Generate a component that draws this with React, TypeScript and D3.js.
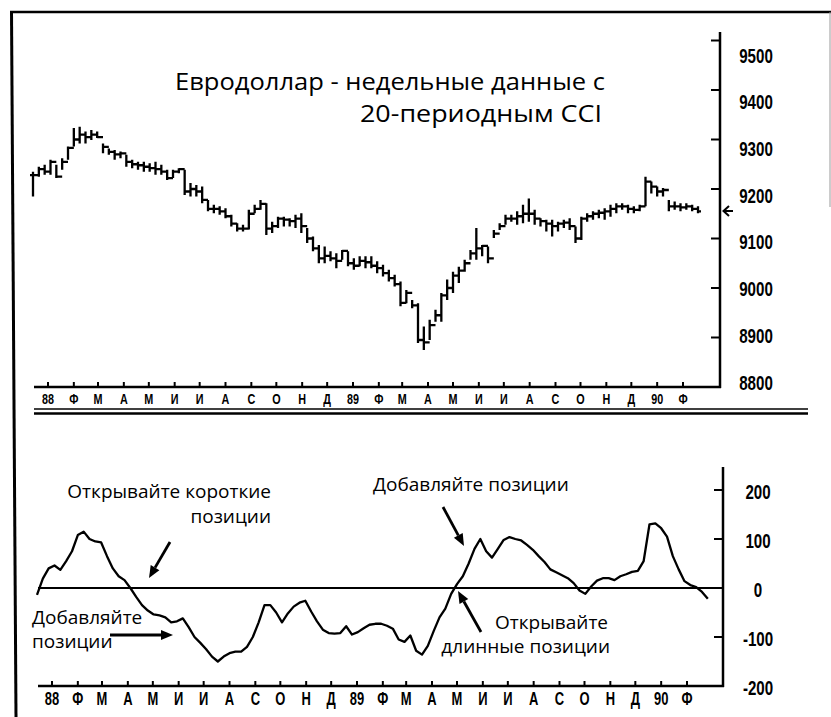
import React from 'react';
import * as d3 from 'd3';

// ---------- DATA ----------
// Weekly Eurodollar bars (first bar week of 14 Dec 1987)
const priceHigh = [9235,9245,9249,9259,9249,9262,9286,9323,9326,9316,9319,9316,9292,9282,9279,9276,9269,9259,9255,9255,9252,9255,9249,9239,9239,9242,9239,9212,9208,9205,9178,9168,9165,9161,9148,9131,9128,9158,9168,9178,9171,9134,9144,9144,9141,9148,9151,9121,9104,9087,9084,9074,9070,9077,9074,9060,9064,9064,9064,9054,9047,9037,9027,9013,8996,8976,8969,8922,8936,8956,8990,9017,9033,9043,9057,9077,9121,9087,9084,9117,9131,9148,9148,9155,9168,9181,9158,9141,9138,9138,9134,9138,9141,9124,9144,9151,9155,9158,9161,9168,9171,9171,9168,9165,9168,9225,9215,9205,9202,9178,9175,9171,9171,9168,9165];
const priceLow = [9185,9225,9229,9229,9222,9239,9259,9286,9292,9292,9299,9303,9272,9269,9259,9262,9245,9242,9239,9235,9235,9229,9229,9218,9222,9232,9188,9185,9185,9171,9155,9151,9148,9141,9124,9114,9114,9118,9151,9158,9107,9111,9121,9124,9124,9121,9111,9091,9074,9050,9050,9054,9040,9057,9044,9037,9044,9040,9040,9030,9023,9013,9003,8963,8969,8959,8889,8875,8895,8932,8932,8976,8990,9010,9033,9057,9057,9064,9050,9101,9117,9128,9134,9128,9131,9134,9128,9124,9114,9104,9114,9121,9117,9091,9097,9134,9138,9141,9138,9144,9151,9158,9151,9151,9155,9165,9191,9185,9185,9155,9158,9155,9158,9155,9151];
const priceClose = [9228,9240,9235,9255,9225,9255,9283,9300,9310,9305,9310,9305,9285,9275,9270,9272,9255,9250,9248,9245,9242,9240,9235,9222,9235,9240,9195,9200,9195,9178,9160,9160,9155,9145,9130,9120,9120,9150,9160,9170,9120,9125,9140,9138,9135,9140,9125,9100,9080,9060,9065,9060,9055,9075,9050,9045,9055,9052,9045,9040,9030,9020,9008,8970,8990,8965,8895,8890,8925,8945,8985,9000,9025,9035,9050,9070,9080,9085,9060,9110,9125,9140,9140,9145,9150,9150,9140,9135,9130,9125,9130,9132,9125,9100,9140,9145,9150,9152,9155,9160,9165,9165,9160,9158,9165,9215,9205,9195,9198,9165,9165,9163,9165,9160,9155];
// 20-period CCI, weekly
const cciValues = [-14,19,40,46,37,55,75,108,115,100,95,93,65,40,24,16,0,-18,-35,-46,-54,-56,-60,-70,-68,-62,-80,-100,-112,-125,-140,-150,-140,-133,-130,-130,-120,-100,-70,-35,-35,-50,-70,-52,-38,-30,-26,-48,-68,-85,-92,-93,-92,-78,-95,-90,-82,-75,-73,-73,-77,-83,-105,-110,-97,-128,-136,-118,-88,-60,-42,-12,8,24,50,80,100,75,62,80,98,104,100,97,88,78,65,53,38,32,26,20,10,-5,-12,3,15,20,20,16,24,28,33,35,55,130,132,122,105,65,38,14,6,2,-8,-22];

const priceTicks = [8800, 8900, 9000, 9100, 9200, 9300, 9400, 9500];
const cciTicks = [-200, -100, 0, 100, 200];
const monthLabels = ['88','Ф','М','А','М','И','И','А','С','О','Н','Д','89','Ф','М','А','М','И','И','А','С','О','Н','Д','90','Ф'];

const titleLines = ['Евродоллар - недельные данные с', '20-периодным CCI'];

// ---------- SCALES ----------
const weekDate = (k: number) => new Date(1987, 11, 14 + 7 * k);
const monthDate = (i: number) => new Date(1988, i, 1);

const xTop = d3.scaleTime().domain([new Date(1988, 0, 1), new Date(1990, 1, 1)]).range([48, 683]);
const xBot = d3.scaleTime().domain([new Date(1988, 0, 1), new Date(1990, 1, 1)]).range([52, 687]);
const yPrice = d3.scaleLinear().domain([8800, 9500]).range([387, 40.5]);
const yPriceLabel = d3.scaleLinear().domain([8800, 9500]).range([382, 55]);
const yCci = d3.scaleLinear().domain([-200, 200]).range([686, 490]);

const condensed = (x: number, y: number, s = 0.72) => `translate(${x},${y}) scale(${s},1)`;

function Arrow({ x1, y1, x2, y2 }: { x1: number; y1: number; x2: number; y2: number }) {
  const a = Math.atan2(y2 - y1, x2 - x1);
  const L = 12, W = 5;
  const bx = x2 - L * Math.cos(a), by = y2 - L * Math.sin(a);
  const p1 = [bx + W * Math.sin(a), by - W * Math.cos(a)];
  const p2 = [bx - W * Math.sin(a), by + W * Math.cos(a)];
  return (
    <g>
      <line x1={x1} y1={y1} x2={bx} y2={by} stroke="#000" strokeWidth={2.8} />
      <path d={`M${x2},${y2}L${p1[0]},${p1[1]}L${p2[0]},${p2[1]}Z`} fill="#000" />
    </g>
  );
}

export default function App() {
  const bars = priceClose.map((c, k) => {
    const x = xTop(weekDate(k));
    const prev = k > 0 ? priceClose[k - 1] : c;
    return `M${x},${yPrice(priceHigh[k])}V${yPrice(priceLow[k])}M${x - 3},${yPrice(prev)}H${x}M${x},${yPrice(c)}H${x + 3}`;
  }).join('');

  const cciLine = d3.line<number>()
    .x((_, k) => xBot(weekDate(k)))
    .y((v) => yCci(v))(cciValues) || '';

  const font = "'Open Sans', 'Noto Sans', sans-serif";
  const axisFont = "'Liberation Sans', Arial, sans-serif";

  return (
    <svg width={831} height={717} style={{ position: 'fixed', left: 0, top: 0, background: '#fff' }}>
      <rect x={0} y={0} width={831} height={717} fill="#fff" />
      {/* frame */}
      <line x1={10} y1={12} x2={831} y2={12} stroke="#000" strokeWidth={2.5} />
      <line x1={11.5} y1={11} x2={16} y2={717} stroke="#000" strokeWidth={3} />
      <line x1={830} y1={12} x2={830} y2={207} stroke="#999" strokeWidth={1} />

      {/* title */}
      <text x={605} y={90} textAnchor="end" fontFamily={font} fontSize={24.5} fill="#000"
        textLength={430} lengthAdjust="spacingAndGlyphs">{titleLines[0]}</text>
      <text x={602} y={122} textAnchor="end" fontFamily={font} fontSize={24.5} fill="#000"
        textLength={242} lengthAdjust="spacingAndGlyphs">{titleLines[1]}</text>

      {/* ===== top panel ===== */}
      <path d={bars} stroke="#000" strokeWidth={2.3} fill="none" />
      {/* right axis */}
      <line x1={720} y1={32} x2={720} y2={388} stroke="#000" strokeWidth={2.5} />
      {priceTicks.filter(v => v > 8800).map(v => (
        <line key={v} x1={711} x2={720} y1={yPrice(v)} y2={yPrice(v)} stroke="#000" strokeWidth={2} />
      ))}
      {priceTicks.map(v => (
        <text key={v} transform={condensed(756, yPriceLabel(v) + 7.5)} textAnchor="middle"
          fontFamily={axisFont} fontWeight="bold" fontSize={21} fill="#000">{v}</text>
      ))}
      {/* last price marker */}
      <path d="M733,211H724M729,206L723.5,211L729,216" stroke="#000" strokeWidth={2} fill="none" />
      {/* bottom axis of top panel */}
      <line x1={34} y1={387} x2={721} y2={387} stroke="#000" strokeWidth={2.5} />
      {monthLabels.map((m, i) => (
        <line key={'tt' + i} x1={xTop(monthDate(i))} x2={xTop(monthDate(i))} y1={387} y2={382} stroke="#000" strokeWidth={2} />
      ))}
      {monthLabels.map((m, i) => (
        <text key={'tl' + i} transform={condensed(xTop(monthDate(i)), 404)} textAnchor="middle"
          fontFamily={axisFont} fontWeight="bold" fontSize={15} fill="#000">{m}</text>
      ))}
      {/* double separator */}
      <line x1={34} y1={409} x2={808} y2={409} stroke="#000" strokeWidth={1.6} />
      <line x1={34} y1={413.5} x2={808} y2={413.5} stroke="#000" strokeWidth={2.6} />

      {/* ===== bottom panel ===== */}
      <line x1={38} y1={yCci(0)} x2={723} y2={yCci(0)} stroke="#000" strokeWidth={1.8} />
      <path d={cciLine} stroke="#000" strokeWidth={2.3} fill="none" strokeLinejoin="round" />
      <line x1={723} y1={467} x2={723} y2={687} stroke="#000" strokeWidth={2.5} />
      {cciTicks.filter(v => v > -200).map(v => (
        <line key={v} x1={714} x2={723} y1={yCci(v)} y2={yCci(v)} stroke="#000" strokeWidth={2} />
      ))}
      {cciTicks.map(v => (
        <text key={v} transform={condensed(758, yCci(v) + 9)} textAnchor="middle"
          fontFamily={axisFont} fontWeight="bold" fontSize={21} fill="#000">{v}</text>
      ))}
      <line x1={38} y1={686} x2={724} y2={686} stroke="#000" strokeWidth={2.5} />
      {monthLabels.map((m, i) => (
        <line key={'bt' + i} x1={xBot(monthDate(i))} x2={xBot(monthDate(i))} y1={686} y2={681} stroke="#000" strokeWidth={2} />
      ))}
      {monthLabels.map((m, i) => (
        <text key={'bl' + i} transform={condensed(xBot(monthDate(i)), 705)} textAnchor="middle"
          fontFamily={axisFont} fontWeight="bold" fontSize={18} fill="#000">{m}</text>
      ))}

      {/* annotations */}
      <text x={271} y={498} textAnchor="end" fontFamily={font} fontSize={19} fill="#000">Открывайте короткие</text>
      <text x={271} y={523} textAnchor="end" fontFamily={font} fontSize={19} fill="#000">позиции</text>
      <Arrow x1={170} y1={542} x2={149} y2={578} />

      <text x={32} y={624} fontFamily={font} fontSize={19} fill="#000">Добавляйте</text>
      <text x={32} y={648} fontFamily={font} fontSize={19} fill="#000">позиции</text>
      <Arrow x1={110} y1={635} x2={173} y2={635} />

      <text x={373} y={491} fontFamily={font} fontSize={19} fill="#000">Добавляйте позиции</text>
      <Arrow x1={443} y1={507} x2={464} y2={546} />

      <text x={608} y={629} textAnchor="end" fontFamily={font} fontSize={19} fill="#000">Открывайте</text>
      <text x={610} y={653} textAnchor="end" fontFamily={font} fontSize={19} fill="#000">длинные позиции</text>
      <Arrow x1={481} y1={632} x2={458} y2={591} />
    </svg>
  );
}
